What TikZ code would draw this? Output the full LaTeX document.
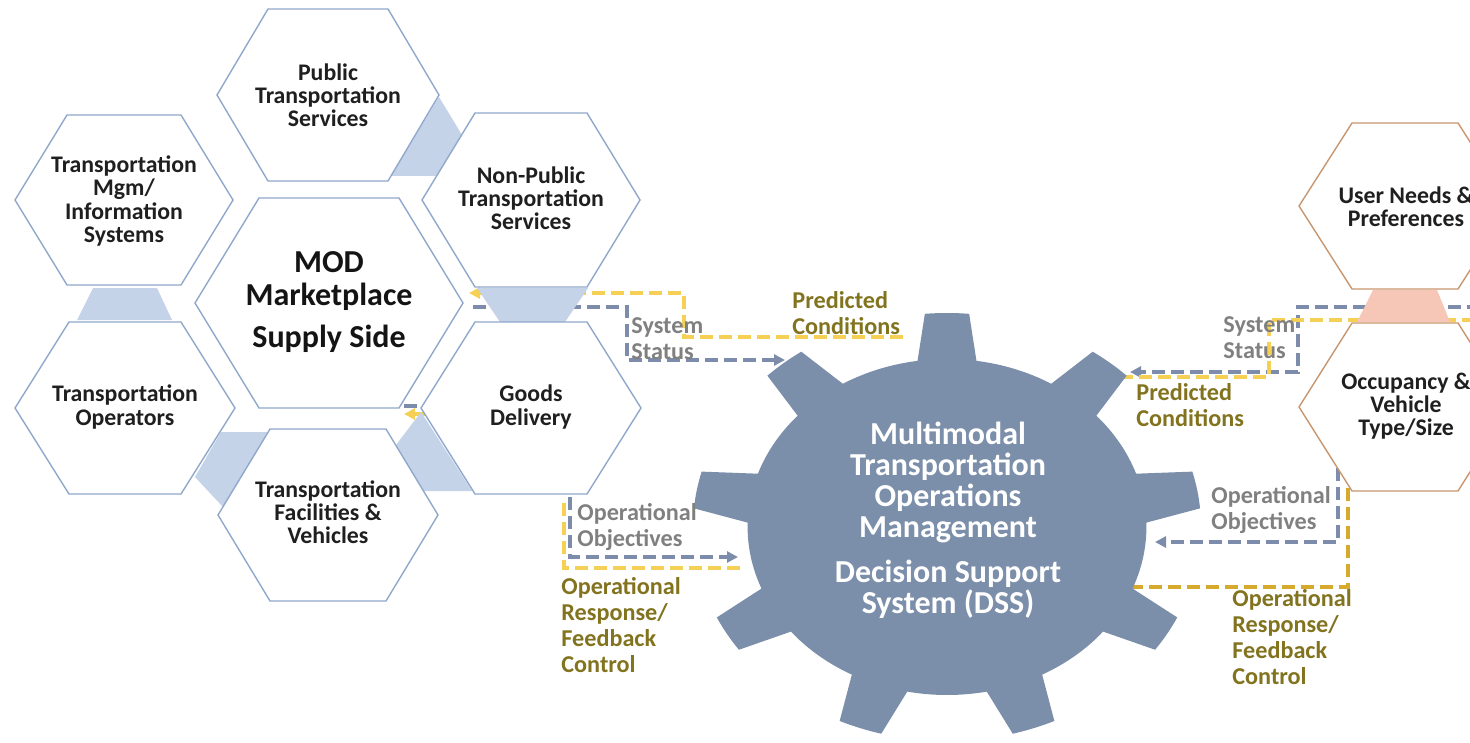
\documentclass[tikz,border=0pt]{standalone}
\usepackage{fontspec}
\setmainfont{Carlito}
\usetikzlibrary{arrows.meta}
\pgfdeclarelayer{bg}
\pgfsetlayers{bg,main}
\definecolor{hexblue}{RGB}{143,168,203}
\definecolor{hexbrown}{RGB}{200,150,110}
\definecolor{trapblue}{RGB}{197,211,232}
\definecolor{trappink}{RGB}{246,198,183}
\definecolor{gearc}{RGB}{123,142,170}
\definecolor{dashgrey}{RGB}{125,140,170}
\definecolor{dashyel}{RGB}{245,208,85}
\definecolor{dashgold}{RGB}{214,170,45}
\definecolor{lblgrey}{RGB}{128,128,128}
\definecolor{lblolive}{RGB}{130,115,30}
\newcommand\hexa[6]{% cx, cy, half-width, half-edge, half-height, style
  \filldraw[#6] ({#1-#3},#2) -- ({#1-#4},{#2-#5}) -- ({#1+#4},{#2-#5}) -- ({#1+#3},#2) -- ({#1+#4},{#2+#5}) -- ({#1-#4},{#2+#5}) -- cycle;}
\begin{document}
\begin{tikzpicture}[x=0.5pt,y=-0.5pt,
  hexL/.style={draw=hexblue, fill=white, line width=0.7pt},
  hexR/.style={draw=hexbrown, fill=white, line width=0.7pt},
  hextext/.style={font=\fontsize{11.9}{11.6}\selectfont\bfseries, align=center, text=black!88},
  modtext/.style={font=\fontsize{16}{16.5}\selectfont\bfseries, align=center, text=black!92},
  geartext/.style={font=\fontsize{16}{15.6}\selectfont\bfseries, align=center, text=white},
  lblg/.style={font=\fontsize{12.1}{13}\selectfont\bfseries, align=left, text=lblgrey, anchor=west, inner sep=0pt},
  lblo/.style={font=\fontsize{12.1}{13}\selectfont\bfseries, align=left, text=lblolive, anchor=west, inner sep=0pt},
  gline/.style={draw=dashgrey, line width=2pt, dash pattern=on 6.5pt off 3pt},
  yline/.style={draw=dashyel, line width=2pt, dash pattern=on 6.5pt off 3pt},
  dline/.style={draw=dashgold, line width=2pt, dash pattern=on 6.5pt off 3pt},
  arrowend/.style={-{Triangle[length=5.5pt,width=5.5pt]}}
]
\useasboundingbox (0,0) rectangle (1470,743);
\clip (0,0) rectangle (1470,743);

% ---------- hexagons (left cluster) ----------
\hexa{328}{95}{111}{60}{86}{hexL}
\node[hextext] (pub) at (328,95) {Public\\Transportation\\Services};
\hexa{124}{200}{109}{57}{85}{hexL}
\node[hextext] (mgm) at (124,201) {Transportation\\Mgm/\\Information\\Systems};
\hexa{531}{200}{109}{56}{87}{hexL}
\node[hextext] (npub) at (531,198) {Non-Public\\Transportation\\Services};
\hexa{329}{303}{134}{70}{105}{hexL}
\node[modtext] (mod) at (329,302) {MOD\\Marketplace\\[4.5pt]Supply Side};
\hexa{125}{408}{110}{56}{86}{hexL}
\node[hextext] (oper) at (125,407) {Transportation\\Operators};
\hexa{531}{408}{110}{56}{86}{hexL}
\node[hextext] (goods) at (531,407) {Goods\\Delivery};
\hexa{328}{515}{110}{58}{86}{hexL}
\node[hextext] (fac) at (328,512) {Transportation\\Facilities \&\\Vehicles};

% ---------- hexagons (right) ----------
\hexa{1405}{206}{106}{53}{83}{hexR}
\node[hextext] (user) at (1406,207) {User Needs \&\\Preferences};
\hexa{1405}{407}{106}{53}{84}{hexR}
\node[hextext] (occ) at (1406,406) {Occupancy \&\\Vehicle\\Type/Size};

% ---------- connector end points ----------
\coordinate (modE) at (469,293);
\coordinate (modE2) at (473,307);
\coordinate (gearNW) at (785,360);
\coordinate (pcL) at (903,337);
\coordinate (goodsS1) at (570,497);
\coordinate (goodsS2) at (564,497);
\coordinate (gearW1) at (738,557);
\coordinate (gearW2) at (740,568);
\coordinate (edgeR1) at (1480,307);
\coordinate (edgeR2) at (1480,320);
\coordinate (gearNE1) at (1130,372);
\coordinate (gearNE2) at (1120,377);
\coordinate (occS1) at (1338,468);
\coordinate (occS2) at (1348,484);
\coordinate (gearE1) at (1155,542);
\coordinate (gearE2) at (1130,587);
\coordinate (goodsW1) at (417,406);
\coordinate (modSE1) at (400,406);
\coordinate (goodsW2) at (425,414);
\coordinate (modSE2) at (404,414);

\begin{pgfonlayer}{bg}
% left: predicted conditions / system status
\draw[yline, arrowend] (pcL) -- (684,337) -- (684,293) -- (modE);
\draw[gline, arrowend] (modE2) -- (627,307) -- (627,360) -- (gearNW);
% left: operational objectives / response
\draw[gline, arrowend] (goodsS1) -- (570,557) -- (gearW1);
\draw[yline] (gearW2) -- (564,568) -- (goodsS2);
% small pieces between goods and MOD
\draw[gline] (goodsW1) -- (modSE1);
\draw[draw=dashyel, line width=2pt, arrowend] (goodsW2) -- (modSE2);
% right: system status / predicted conditions
\draw[gline, arrowend] (edgeR1) -- (1298,307) -- (1298,372) -- (gearNE1);
\draw[yline] (gearNE2) -- (1269,377) -- (1269,320) -- (edgeR2);
% right: operational objectives / response
\draw[gline, arrowend] (occS1) -- (1338,542) -- (gearE1);
\draw[dline] (gearE2) -- (1348,587) -- (occS2);

% ---------- linking trapezoids ----------
\fill[trapblue] (439,97) -- (462,135) -- (440,176) -- (391,176) -- cycle;
\fill[trapblue] (93,288) -- (157,288) -- (172,320) -- (77,320) -- cycle;
\fill[trapblue] (221,432) -- (270,432) -- (223,507) -- (195,477) -- cycle;
\fill[trapblue] (421,412) -- (472,491) -- (423,491) -- (396,445) -- cycle;
\fill[trapblue] (477,288) -- (588,288) -- (565,322) -- (500,322) -- cycle;
\fill[trappink] (1373,290) -- (1437,290) -- (1450,322) -- (1357,322) -- cycle;
\end{pgfonlayer}

% ---------- gear ----------
\begin{scope}[shift={(947,527)}, xscale=1.187]
\fill[gearc] (-98.5:168)
  \foreach \k [evaluate=\k as \gA using -98.5+40*\k,
               evaluate=\k as \gB using -95+40*\k,
               evaluate=\k as \gC using -85+40*\k,
               evaluate=\k as \gD using -81.5+40*\k,
               evaluate=\k as \gE using -58.5+40*\k] in {0,...,8}
  { -- (\gA:168) -- (\gB:214) arc[start angle=\gB, end angle=\gC, radius=214]
    -- (\gD:168) arc[start angle=\gD, end angle=\gE, radius=168] } -- cycle;
\end{scope}
\node[geartext] (dss) at (948,520) {Multimodal\\Transportation\\Operations\\Management\\[6.5pt]Decision Support\\System (DSS)};

% ---------- labels ----------
\node[lblg] (ssL) at (631,339) {System\\Status};
\node[lblo] (pcLt) at (792,313) {Predicted\\Conditions};
\node[lblg] (ooL) at (577,527) {Operational\\Objectives};
\node[lblo] (orL) at (561,625) {Operational\\Response/\\Feedback\\Control};
\node[lblg] (ssR) at (1223,338) {System\\Status};
\node[lblo] (pcRt) at (1136,405) {Predicted\\Conditions};
\node[lblg] (ooR) at (1211,510) {Operational\\Objectives};
\node[lblo] (orR) at (1232,637) {Operational\\Response/\\Feedback\\Control};
\end{tikzpicture}
\end{document}
